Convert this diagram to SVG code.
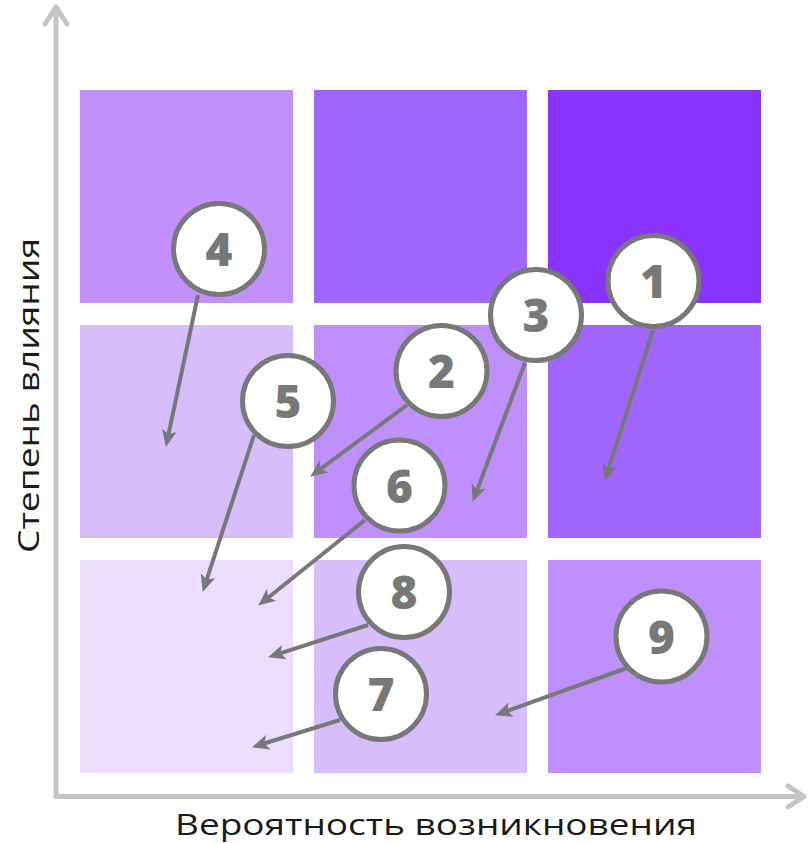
<svg xmlns="http://www.w3.org/2000/svg" width="808" height="843" viewBox="0 0 808 843">
  <style>
    .axis { fill: none; stroke: #c4c4c4; stroke-width: 5; stroke-linecap: round; stroke-linejoin: round; }
    .node circle { fill: #ffffff; stroke: #787878; stroke-width: 5; }
    .node text { font-family: "Open Sans", "Liberation Sans", sans-serif; font-weight: 800; font-size: 46px; fill: #787878; text-anchor: middle; }
    .conn { stroke: #787878; stroke-width: 4; fill: none; marker-end: url(#ah); }
    .label { font-family: "Open Sans", "Liberation Sans", sans-serif; font-size: 30px; fill: #1a1a1a; text-anchor: middle; }
  </style>
  <defs>
    <marker id="ah" markerUnits="userSpaceOnUse" viewBox="-1 -8 19 16" markerWidth="19" markerHeight="16" refX="6" refY="0" orient="auto">
      <path d="M0,-7.5 L17,0 L0,7.5 L4,0 z" fill="#787878"/>
    </marker>
  </defs>
  <rect width="808" height="843" fill="#ffffff"/>

  <g id="grid">
    <rect x="80" y="90" width="213" height="213" fill="#c190fb"/>
    <rect x="314" y="90" width="213" height="213" fill="#a066fb"/>
    <rect x="548" y="90" width="213" height="213" fill="#8a33fd"/>
    <rect x="80" y="325" width="213" height="213" fill="#d8bdfc"/>
    <rect x="314" y="325" width="213" height="213" fill="#bf90fb"/>
    <rect x="548" y="325" width="213" height="213" fill="#a066fb"/>
    <rect x="80" y="560" width="213" height="213" fill="#ecdcfe"/>
    <rect x="314" y="560" width="213" height="213" fill="#d8bdfc"/>
    <rect x="548" y="560" width="213" height="213" fill="#bf90fb"/>
  </g>

  <g id="axes">
    <line class="axis" x1="56" y1="9" x2="56" y2="796.5"/>
    <line class="axis" x1="56" y1="796.5" x2="802" y2="796.5"/>
    <polyline class="axis" points="45,24 56,7 67,24"/>
    <polyline class="axis" points="788,786 804,796.5 788,807"/>
  </g>

  <text class="label" x="436" y="835" textLength="522" lengthAdjust="spacingAndGlyphs">Вероятность возникновения</text>
  <text class="label" transform="translate(39,395.5) rotate(-90)" x="0" y="0" textLength="315" lengthAdjust="spacingAndGlyphs">Степень влияния</text>

  <g id="n1" class="node"><circle cx="653.5" cy="281" r="45.5"/><text x="653.5" y="298">1</text></g>
  <g id="n2" class="node"><circle cx="441.5" cy="371" r="45.5"/><text x="441.5" y="388">2</text></g>
  <g id="n3" class="node"><circle cx="536" cy="315" r="45.5"/><text x="536" y="332">3</text></g>
  <g id="n4" class="node"><circle cx="219" cy="249" r="45.5"/><text x="219" y="266">4</text></g>
  <g id="n5" class="node"><circle cx="288" cy="401" r="45.5"/><text x="288" y="418">5</text></g>
  <g id="n6" class="node"><circle cx="399.5" cy="485.5" r="45.5"/><text x="399.5" y="502.5">6</text></g>
  <g id="n7" class="node"><circle cx="381" cy="694" r="45.5"/><text x="381" y="711">7</text></g>
  <g id="n8" class="node"><circle cx="404" cy="592" r="45.5"/><text x="404" y="609">8</text></g>
  <g id="n9" class="node"><circle cx="661.5" cy="636.5" r="45.5"/><text x="661.5" y="653.5">9</text></g>

  <g id="connectors">
    <line class="conn" x1="653" y1="330" x2="608" y2="470.5"/>
    <line class="conn" x1="407" y1="405" x2="319" y2="470.1"/>
    <line class="conn" x1="525" y1="363" x2="476.5" y2="491.6"/>
    <line class="conn" x1="198" y1="295" x2="168.1" y2="436.2"/>
    <line class="conn" x1="254" y1="435" x2="206.1" y2="581.5"/>
    <line class="conn" x1="365" y1="520" x2="266.8" y2="598.7"/>
    <line class="conn" x1="340" y1="720" x2="262.5" y2="744"/>
    <line class="conn" x1="368" y1="625" x2="278.5" y2="653.9"/>
    <line class="conn" x1="627" y1="668" x2="505.4" y2="711.6"/>
  </g>
</svg>
